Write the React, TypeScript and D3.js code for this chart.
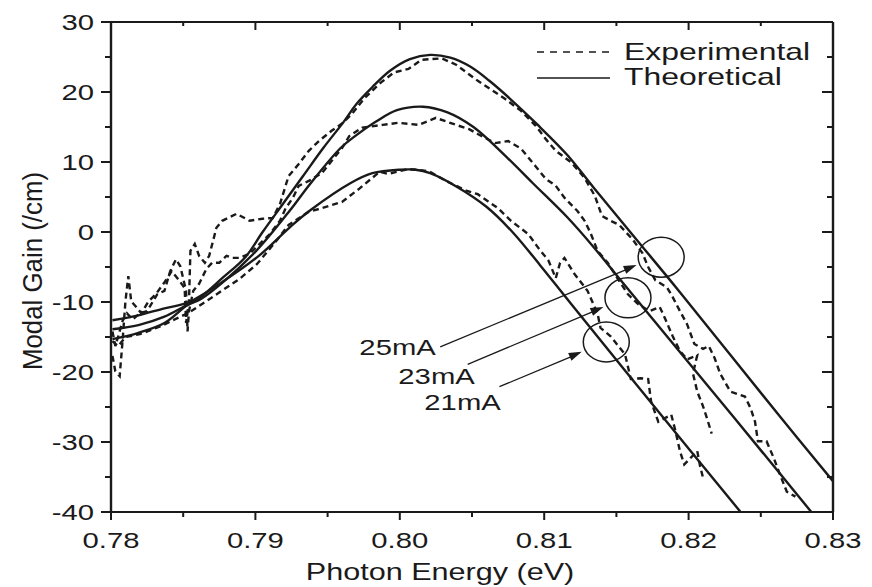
import React from 'react';
import * as d3 from 'd3';

const xTicks = [0.78, 0.79, 0.8, 0.81, 0.82, 0.83];
const xTickLabels = ['0.78', '0.79', '0.80', '0.81', '0.82', '0.83'];
const xMinorTicks = [0.785, 0.795, 0.805, 0.815, 0.825];
const yTicks = [30, 20, 10, 0, -10, -20, -30, -40];
const yMinorTicks = [25, 15, 5, -5, -15, -25, -35];

// Theoretical curves
const theo25E = [0.7801, 0.7819, 0.7837, 0.7853, 0.7862, 0.7877, 0.7893, 0.7905, 0.7919, 0.7933, 0.7947, 0.7961, 0.797, 0.7981, 0.7993, 0.8007, 0.8021, 0.8035, 0.8049, 0.8062, 0.8076, 0.8095, 0.8116, 0.8134, 0.8164, 0.8194, 0.8263, 0.83];
const theo25G = [-15.3, -14.4, -13.0, -10.4, -9.3, -6.6, -3.6, 0.0, 4.0, 8.0, 12.0, 15.7, 18.3, 20.7, 23.0, 24.7, 25.3, 24.9, 23.6, 21.6, 19.1, 15.4, 11.0, 6.4, -1.1, -8.6, -26.3, -35.6];

const theo23E = [0.7801, 0.7819, 0.7837, 0.7853, 0.7862, 0.7879, 0.7901, 0.7924, 0.7938, 0.7959, 0.7969, 0.7983, 0.7998, 0.8016, 0.8033, 0.8051, 0.8074, 0.8092, 0.8116, 0.8134, 0.8153, 0.8231, 0.8285];
const theo23G = [-13.9, -13.3, -12.1, -10.4, -9.6, -6.9, -2.6, 3.1, 6.9, 12.0, 13.7, 15.7, 17.4, 17.9, 17.1, 15.0, 10.7, 7.0, 2.1, -2.1, -6.9, -26.4, -40];

const theo21E = [0.7801, 0.7819, 0.7837, 0.7853, 0.7878, 0.7903, 0.7924, 0.7938, 0.7966, 0.7981, 0.8, 0.8011, 0.8021, 0.804, 0.806, 0.8078, 0.8097, 0.8118, 0.8182, 0.8236];
const theo21G = [-12.6, -11.9, -10.9, -10.1, -7.0, -3.3, 0.7, 3.1, 7.0, 8.4, 8.9, 8.9, 8.4, 6.4, 3.6, 0.0, -4.7, -10.1, -26.4, -40];

// Experimental curves
const exp25E = [0.7801, 0.7803, 0.7806, 0.7808, 0.781, 0.7812, 0.7814, 0.7817, 0.7821, 0.7826, 0.7831, 0.7837, 0.7842, 0.7846, 0.7851, 0.7852, 0.7854, 0.7855, 0.7858, 0.7861, 0.7865, 0.7868, 0.7873, 0.7877, 0.7882, 0.7887, 0.7896, 0.7905, 0.7912, 0.7917, 0.7923, 0.793, 0.7937, 0.7944, 0.7953, 0.796, 0.7967, 0.7975, 0.7986, 0.7996, 0.8006, 0.8015, 0.8029, 0.8039, 0.8054, 0.8073, 0.8084, 0.8094, 0.8101, 0.8108, 0.8119, 0.8128, 0.8135, 0.814, 0.8146, 0.8152, 0.8161, 0.8168, 0.8172, 0.8177, 0.8185, 0.8189, 0.8194, 0.8199, 0.8204, 0.821, 0.8214, 0.8218, 0.8222, 0.8229, 0.8239, 0.8243, 0.8246, 0.8248, 0.8254, 0.8259, 0.8263, 0.8268, 0.8274];
const exp25G = [-17.7, -19.9, -20.6, -15.6, -9.9, -6.3, -9.9, -10.6, -11.6, -9.9, -8.9, -7.2, -5.6, -6.6, -8.0, -13.0, -9.9, -2.7, -1.7, -3.4, -4.4, -3.4, 0.6, 1.6, 2.1, 2.6, 1.6, 1.9, 2.0, 4.0, 8.0, 9.7, 11.6, 13.0, 14.5, 15.5, 16.9, 19.0, 21.2, 22.8, 23.3, 24.6, 24.8, 23.9, 21.6, 19.0, 17.3, 15.2, 13.3, 11.6, 9.9, 7.7, 5.2, 2.3, 1.6, 1.0, -1.0, -3.0, -5.0, -6.9, -7.9, -9.3, -11.3, -13.2, -16.0, -16.7, -16.3, -18.0, -20.3, -22.8, -23.5, -25.2, -27.1, -29.9, -29.9, -32.3, -34.5, -37.1, -37.8];

const exp23E = [0.7801, 0.7803, 0.7805, 0.7808, 0.7811, 0.7815, 0.782, 0.7825, 0.7832, 0.7837, 0.7841, 0.7845, 0.7848, 0.7852, 0.7853, 0.7854, 0.7857, 0.7861, 0.7866, 0.787, 0.7875, 0.788, 0.7884, 0.7889, 0.7896, 0.7903, 0.791, 0.7917, 0.7921, 0.7926, 0.793, 0.7937, 0.7946, 0.7953, 0.796, 0.7965, 0.7974, 0.7988, 0.7999, 0.8013, 0.8025, 0.8039, 0.8048, 0.8054, 0.8066, 0.8075, 0.8084, 0.8094, 0.8101, 0.8108, 0.8114, 0.8123, 0.8128, 0.8132, 0.8137, 0.8144, 0.8151, 0.8158, 0.8165, 0.8173, 0.818, 0.8184, 0.8189, 0.8194, 0.8199, 0.8206, 0.8203, 0.8206, 0.821, 0.8213, 0.8216];
const exp23G = [-14.2, -16.3, -14.9, -12.7, -11.6, -12.5, -11.6, -11.3, -8.9, -8.4, -5.6, -3.9, -4.9, -8.4, -14.2, -11.3, -8.4, -7.4, -5.3, -4.4, -4.4, -3.4, -3.7, -3.7, -3.1, -1.7, -0.3, 1.6, 3.4, 4.9, 6.6, 7.3, 8.4, 10.2, 12.0, 13.7, 14.9, 15.3, 15.6, 15.3, 16.3, 15.3, 14.7, 14.0, 12.7, 13.0, 11.9, 9.4, 7.6, 6.6, 4.9, 3.0, 1.6, -0.1, -2.7, -4.4, -6.7, -8.9, -10.3, -11.3, -10.7, -12.5, -14.9, -17.0, -18.2, -17.6, -20.2, -22.8, -24.9, -26.8, -28.8];

const exp21E = [0.7801, 0.7805, 0.781, 0.782, 0.7834, 0.7854, 0.7868, 0.7889, 0.7901, 0.7914, 0.7923, 0.7937, 0.7946, 0.796, 0.7972, 0.7986, 0.7992, 0.8006, 0.802, 0.8032, 0.8046, 0.8054, 0.8061, 0.8068, 0.8077, 0.8089, 0.8096, 0.8103, 0.8108, 0.8111, 0.8114, 0.8121, 0.813, 0.8137, 0.8139, 0.8146, 0.8156, 0.816, 0.8167, 0.8172, 0.8174, 0.8179, 0.8188, 0.8191, 0.8194, 0.8197, 0.8206, 0.8208, 0.821];
const exp21G = [-15.6, -16.3, -15.0, -14.6, -13.5, -11.5, -9.6, -6.7, -4.6, -1.4, 1.0, 2.9, 3.4, 4.3, 6.2, 8.6, 8.3, 9.0, 8.7, 7.3, 5.9, 5.4, 4.4, 3.4, 1.6, -0.3, -2.3, -4.1, -6.6, -4.4, -3.7, -6.0, -8.4, -11.7, -13.7, -14.9, -17.5, -21.0, -20.9, -21.0, -24.2, -27.1, -26.1, -28.5, -31.3, -33.2, -31.3, -33.5, -35.1];

// Annotations: current labels, label anchor, arrow start/end, circle centre
const annLabels = ['25mA', '23mA', '21mA'];
const annLabelE = [0.7972, 0.7999, 0.8017];
const annLabelG = [-17.6, -21.7, -25.4];
const annArrowFromE = [0.8028, 0.8047, 0.8069];
const annArrowFromG = [-16.4, -18.9, -22.1];
const annArrowToE = [0.8164, 0.8141, 0.8126];
const annArrowToG = [-4.7, -10.7, -17.1];
const circleE = [0.8181, 0.8158, 0.8143];
const circleG = [-3.6, -9.4, -15.7];

const legendLabels = ['Experimental', 'Theoretical'];

const FONT = "'Liberation Sans', Arial, Helvetica, sans-serif";
const INK = '#1a1a1a';
const SX = 1.33;

function T({ x, y, anchor = 'start', size = 22, children }: any) {
  return (
    <text
      transform={`translate(${x},${y}) scale(${SX},1)`}
      textAnchor={anchor}
      fontSize={size}
      fontFamily={FONT}
      fill={INK}
    >
      {children}
    </text>
  );
}

function zip(e: number[], g: number[]) {
  return e.map((v, i) => [v, g[i]] as [number, number]);
}

export default function App() {
  const left = 111, right = 833, top = 22, bottom = 512;
  const x = d3.scaleLinear().domain([0.78, 0.83]).range([left, right]);
  const y = d3.scaleLinear().domain([-40, 30]).range([bottom, top]);

  const smooth = d3
    .line<[number, number]>()
    .x((d) => x(d[0]))
    .y((d) => y(d[1]))
    .curve(d3.curveCatmullRom.alpha(0.5));
  const lin = d3
    .line<[number, number]>()
    .x((d) => x(d[0]))
    .y((d) => y(d[1]));

  const theo = [zip(theo25E, theo25G), zip(theo23E, theo23G), zip(theo21E, theo21G)];
  const exps = [zip(exp25E, exp25G), zip(exp23E, exp23G), zip(exp21E, exp21G)];

  const arrows = annLabels.map((lab, i) => {
    const x1 = x(annArrowFromE[i]), y1 = y(annArrowFromG[i]);
    const x2 = x(annArrowToE[i]), y2 = y(annArrowToG[i]);
    const ang = Math.atan2(y2 - y1, x2 - x1);
    const L = 13, W = 4.2;
    const bx = x2 - L * Math.cos(ang), by = y2 - L * Math.sin(ang);
    const pts = [
      [x2, y2],
      [bx + W * Math.sin(ang), by - W * Math.cos(ang)],
      [bx - W * Math.sin(ang), by + W * Math.cos(ang)],
    ]
      .map((p) => p.join(','))
      .join(' ');
    return (
      <g key={lab}>
        <line x1={x1} y1={y1} x2={bx + 1} y2={by} stroke={INK} strokeWidth={1.3} />
        <polygon points={pts} fill={INK} />
        <T x={x(annLabelE[i])} y={y(annLabelG[i])} size={22}>
          {lab}
        </T>
        <ellipse cx={x(circleE[i])} cy={y(circleG[i])} rx={23} ry={20} fill="none" stroke={INK} strokeWidth={1.5} />
      </g>
    );
  });

  return (
    <svg width={872} height={587} style={{ position: 'absolute', left: 0, top: 0, background: '#fff' }}>
      <rect x={0} y={0} width={872} height={587} fill="#fff" />
      <defs>
        <clipPath id="plotclip">
          <rect x={left} y={top} width={right - left} height={bottom - top} />
        </clipPath>
      </defs>

      {/* curves */}
      <g clipPath="url(#plotclip)" fill="none" stroke={INK}>
        {theo.map((d, i) => (
          <path key={'t' + i} d={smooth(d) || ''} strokeWidth={2.4} />
        ))}
        {exps.map((d, i) => (
          <path key={'e' + i} d={lin(d) || ''} strokeWidth={2.4} strokeDasharray="6,4" />
        ))}
      </g>

      {arrows}

      {/* legend */}
      <line x1={537} x2={610} y1={52} y2={52} stroke={INK} strokeWidth={1.6} strokeDasharray="7,6" />
      <line x1={537} x2={610} y1={78} y2={78} stroke={INK} strokeWidth={1.6} />
      <T x={624} y={60} size={24}>{legendLabels[0]}</T>
      <T x={624} y={85} size={24}>{legendLabels[1]}</T>

      {/* frame */}
      <g stroke={INK} fill="none">
        <line x1={left} x2={right} y1={top} y2={top} strokeWidth={2} />
        <line x1={left} x2={right} y1={bottom} y2={bottom} strokeWidth={2} />
        <line x1={left} x2={left} y1={top} y2={bottom} strokeWidth={2.4} />
        <line x1={right} x2={right} y1={top} y2={bottom} strokeWidth={2.4} />
        {xTicks.map((t) => (
          <g key={'xt' + t}>
            <line x1={x(t)} x2={x(t)} y1={bottom} y2={bottom + 8} strokeWidth={2} />
            <line x1={x(t)} x2={x(t)} y1={top} y2={top + 8} strokeWidth={2} />
          </g>
        ))}
        {xMinorTicks.map((t) => (
          <g key={'xm' + t}>
            <line x1={x(t)} x2={x(t)} y1={bottom} y2={bottom + 5} strokeWidth={2} />
            <line x1={x(t)} x2={x(t)} y1={top} y2={top + 4} strokeWidth={2} />
          </g>
        ))}
        {yTicks.map((t) => (
          <g key={'yt' + t}>
            <line x1={left - 10} x2={left} y1={y(t)} y2={y(t)} strokeWidth={2} />
            <line x1={right - 11} x2={right} y1={y(t)} y2={y(t)} strokeWidth={2} />
          </g>
        ))}
        {yMinorTicks.map((t) => (
          <g key={'ym' + t}>
            <line x1={left - 6} x2={left} y1={y(t)} y2={y(t)} strokeWidth={2} />
            <line x1={right - 6} x2={right} y1={y(t)} y2={y(t)} strokeWidth={2} />
          </g>
        ))}
      </g>

      {/* tick labels */}
      {xTicks.map((t, i) => (
        <T key={'xl' + t} x={x(t)} y={548} anchor="middle" size={22}>
          {xTickLabels[i]}
        </T>
      ))}
      {yTicks.map((t) => (
        <T key={'yl' + t} x={94} y={y(t) + 8} anchor="end" size={22}>
          {String(t)}
        </T>
      ))}

      {/* axis titles */}
      <T x={440} y={580} anchor="middle" size={23}>
        Photon Energy (eV)
      </T>
      <text
        transform="translate(42,271) rotate(-90)"
        textAnchor="middle"
        fontSize={28}
        fontFamily={FONT}
        fill={INK}
        textLength={198}
        lengthAdjust="spacingAndGlyphs"
      >
        Modal Gain (/cm)
      </text>
    </svg>
  );
}
